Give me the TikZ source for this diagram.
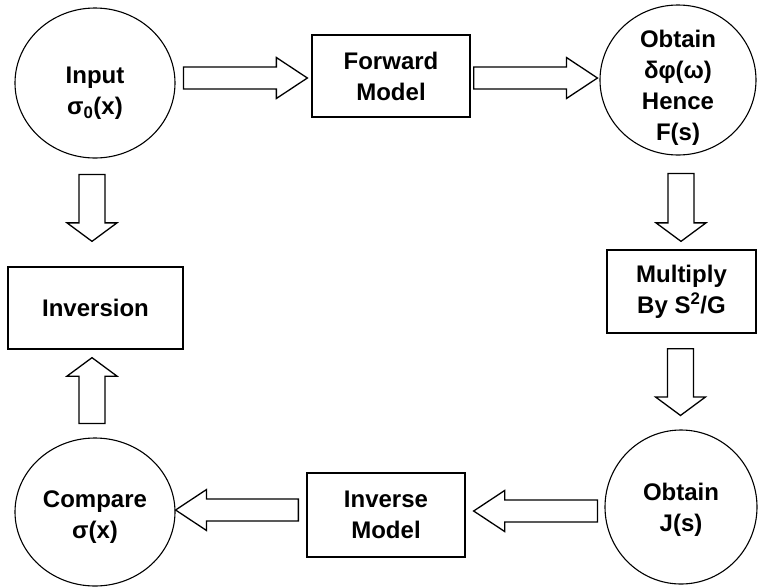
\documentclass[tikz,border=0pt]{standalone}
\usepackage{fontspec}
\setmainfont{Liberation Sans}
\usetikzlibrary{shapes.geometric,calc}
\tikzset{
  txt/.style={align=center, font=\bfseries\fontsize{24}{31}\selectfont},
  circ/.style={draw, line width=1.1pt, ellipse, inner sep=0pt},
  boxn/.style={draw, line width=1.3pt, rectangle, inner sep=0pt, txt},
  blk/.style={draw, line width=1.3pt, line join=miter, fill=white}
}
% horizontal block arrow: from #1 to tip #2 (same y as #1)
\newcommand\blkH[2]{\draw[blk] let \p1=(#1), \p2=(#2), \n1={sign(\x2-\x1)} in
  (\x1,\y1+11pt) -- (\x2-\n1*31pt,\y1+11pt) -- (\x2-\n1*31pt,\y1+20.5pt) -- (\x2,\y1)
  -- (\x2-\n1*31pt,\y1-20.5pt) -- (\x2-\n1*31pt,\y1-11pt) -- (\x1,\y1-11pt) -- cycle;}
% vertical block arrow: from #1 to tip #2 (same x as #1)
\newcommand\blkV[2]{\draw[blk] let \p1=(#1), \p2=(#2), \n1={sign(\y2-\y1)} in
  (\x1+13pt,\y1) -- (\x1+13pt,\y2-\n1*18.5pt) -- (\x1+25pt,\y2-\n1*18.5pt) -- (\x1,\y2)
  -- (\x1-25pt,\y2-\n1*18.5pt) -- (\x1-13pt,\y2-\n1*18.5pt) -- (\x1-13pt,\y1) -- cycle;}
\begin{document}
\begin{tikzpicture}[x=1pt,y=-1pt]
\useasboundingbox[fill=white] (0,0) rectangle (758,587);
% nodes
\node[circ, minimum width=160pt, minimum height=150pt,
  label={[txt, yshift=-10pt]center:Input\\σ\textsubscript{0}(x)}] (in) at (95,83) {};
\node[boxn, minimum width=158pt, minimum height=82pt] (fwd) at (391,76) {Forward\\Model};
\node[circ, minimum width=156pt, minimum height=150pt,
  label={[txt, yshift=-8pt]center:Obtain\\δφ(ω)\\Hence\\F(s)}] (ob1) at (678,80) {};
\node[boxn, minimum width=149pt, minimum height=83pt] (mul) at (681.5,291.5) {Multiply\\By S\textsuperscript{2}/G};
\node[circ, minimum width=152pt, minimum height=154pt,
  label={[txt, yshift=-3pt]center:Obtain\\J(s)}] (ob2) at (681,507) {};
\node[boxn, minimum width=158pt, minimum height=84pt] (invm) at (386,515) {Inverse\\Model};
\node[circ, minimum width=160pt, minimum height=148pt,
  label={[txt, yshift=-5pt]center:Compare\\σ(x)}] (cmp) at (95,512) {};
\node[boxn, minimum width=175pt, minimum height=82pt] (inv) at (95.5,308) {Inversion};
% arrow end points
\coordinate (a1s) at ($(in.east)+(8,-5)$);
\coordinate (a1e) at ($(fwd.west)+(-4,0)$);
\coordinate (a2s) at ($(fwd.east)+(3,2)$);
\coordinate (a2e) at ($(ob1.west)+(-2,0)$);
\coordinate (a3s) at ($(ob1.south)+(3,18)$);
\coordinate (a3e) at ($(mul.north)+(0,-8)$);
\coordinate (a4s) at ($(mul.south)+(-1,15)$);
\coordinate (a4e) at ($(ob2.north)+(0,-14)$);
\coordinate (a5s) at ($(ob2.west)+(-7,4)$);
\coordinate (a5e) at ($(invm.east)+(8,0)$);
\coordinate (a6s) at ($(invm.west)+(-8,-5)$);
\coordinate (a6e) at ($(cmp.east)+(0,0)$);
\coordinate (a7s) at ($(cmp.north)+(-3,-14)$);
\coordinate (a7e) at ($(inv.south)+(0,8)$);
\coordinate (a8s) at ($(in.south)+(-3,16)$);
\coordinate (a8e) at ($(inv.north)+(0,-25)$);
% connectors
\blkH{a1s}{a1e}
\blkH{a2s}{a2e}
\blkV{a3s}{a3e}
\blkV{a4s}{a4e}
\blkH{a5s}{a5e}
\blkH{a6s}{a6e}
\blkV{a7s}{a7e}
\blkV{a8s}{a8e}
\end{tikzpicture}
\end{document}
